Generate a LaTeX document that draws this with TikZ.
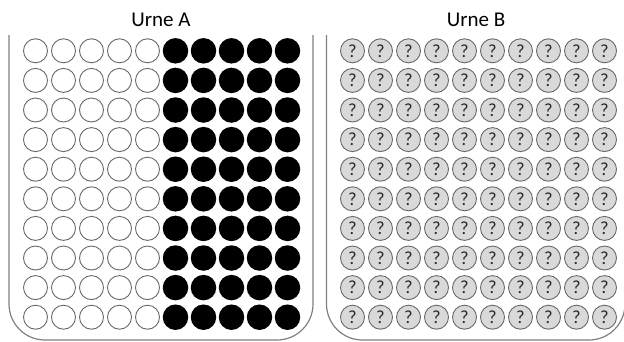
\documentclass[tikz,border=0pt]{standalone}
\usepackage{fontspec}
\setmainfont{Carlito}
\definecolor{wallgray}{RGB}{128,128,128}
\definecolor{ballgray}{RGB}{105,105,105}
\definecolor{qfill}{RGB}{217,217,217}
\definecolor{qtext}{RGB}{40,40,40}
\tikzset{
  whiteball/.style={circle,draw=ballgray,line width=0.9pt,fill=white,minimum size=24pt,inner sep=0pt},
  blackball/.style={circle,fill=black,minimum size=25.5pt,inner sep=0pt},
  qball/.style={circle,draw=ballgray,line width=0.9pt,fill=qfill,minimum size=24pt,inner sep=0pt,
    text=qtext,font=\fontsize{18.5}{18.5}\selectfont},
  urnwall/.style={draw=wallgray,line width=1.2pt,rounded corners=36pt},
  urntitle/.style={font=\fontsize{21}{24}\selectfont}
}

\begin{document}
\begin{tikzpicture}[x=1pt,y=-1pt]
\useasboundingbox (0,0) rectangle (624,341);
% urn outlines:
\path[urnwall] (9,35) -- (9,340) -- (313,340) -- (313,35);
\path[urnwall] (326.5,35) -- (326.5,340) -- (625,340) -- (625,35);
% titles:
\node[urntitle] (titleA) at (161,19.5) {Urne A};
\node[urntitle] (titleB) at (476,19.5) {Urne B};
% balls of urn A:
\foreach \r in {0,...,9} {
  \foreach \c in {0,...,4}
    \node[whiteball] (a-\r-\c) at (35.5+28*\c,50.8+29.6*\r) {};
  \foreach \c in {5,...,9}
    \node[blackball] (a-\r-\c) at (35.5+28*\c,50.8+29.6*\r) {};
}
% balls of urn B:
\foreach \r in {0,...,9}
  \foreach \c in {0,...,9}
    \node[qball] (b-\r-\c) at (352.5+28*\c,50.8+29.6*\r) {?};
\end{tikzpicture}
\end{document}
